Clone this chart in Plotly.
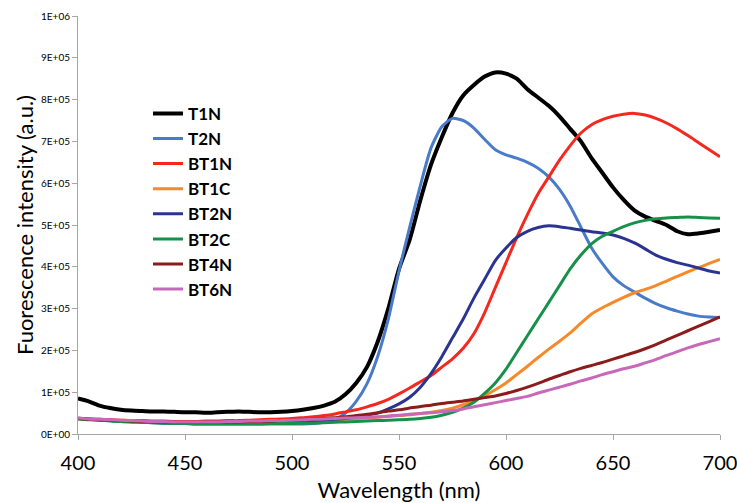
import plotly.graph_objects as go

wavelength = [400, 405, 410, 415, 420, 425, 430, 435, 440, 445,
              450, 455, 460, 465, 470, 475, 480, 485, 490, 495,
              500, 505, 510, 515, 520, 525, 530, 535, 540, 545,
              550, 555, 560, 565, 570, 575, 580, 585, 590, 595,
              600, 605, 610, 615, 620, 625, 630, 635, 640, 645,
              650, 655, 660, 665, 670, 675, 680, 685, 690, 695, 700]

T1N = [85e3, 78e3, 68e3, 62e3, 58e3, 56e3, 55e3, 54e3, 54e3, 53e3,
       52e3, 52e3, 51e3, 52e3, 53e3, 54e3, 53e3, 52e3, 52e3, 53e3,
       55e3, 58e3, 62e3, 68e3, 77e3, 95e3, 122e3, 160e3, 220e3, 300e3,
       395e3, 465e3, 560e3, 645e3, 710e3, 768e3, 810e3, 835e3, 855e3, 865e3,
       862e3, 850e3, 825e3, 805e3, 785e3, 760e3, 730e3, 700e3, 660e3, 625e3,
       590e3, 560e3, 535e3, 520e3, 510e3, 500e3, 485e3, 478e3, 480e3, 484e3, 488e3]

T2N = [38e3, 36e3, 34e3, 32e3, 30e3, 29e3, 28e3, 27e3, 26e3, 25e3,
       25e3, 24e3, 24e3, 24e3, 24e3, 24e3, 24e3, 24e3, 24e3, 24e3,
       24e3, 24e3, 25e3, 28e3, 35e3, 50e3, 78e3, 120e3, 185e3, 275e3,
       390e3, 495e3, 595e3, 685e3, 735e3, 755e3, 750e3, 732e3, 705e3, 680e3,
       668e3, 660e3, 650e3, 636e3, 615e3, 585e3, 545e3, 495e3, 445e3, 408e3,
       376e3, 355e3, 340e3, 325e3, 312e3, 302e3, 294e3, 287e3, 282e3, 280e3, 279e3]

BT1N = [37e3, 36e3, 35e3, 34e3, 33e3, 32e3, 32e3, 31e3, 31e3, 30e3,
        30e3, 30e3, 31e3, 31e3, 32e3, 32e3, 33e3, 34e3, 35e3, 36e3,
        37e3, 39e3, 41e3, 44e3, 48e3, 53e3, 58e3, 65e3, 73e3, 83e3,
        96e3, 110e3, 125e3, 140e3, 160e3, 180e3, 205e3, 240e3, 290e3, 350e3,
        410e3, 470e3, 525e3, 575e3, 615e3, 655e3, 690e3, 720e3, 740e3, 752e3,
        760e3, 765e3, 767e3, 763e3, 755e3, 744e3, 730e3, 714e3, 697e3, 680e3, 663e3]

BT1C = [38e3, 36e3, 35e3, 33e3, 32e3, 31e3, 30e3, 29e3, 28e3, 27e3,
        27e3, 27e3, 27e3, 27e3, 27e3, 28e3, 28e3, 29e3, 29e3, 30e3,
        30e3, 31e3, 32e3, 33e3, 34e3, 35e3, 37e3, 38e3, 40e3, 42e3,
        44e3, 46e3, 49e3, 52e3, 56e3, 62e3, 70e3, 80e3, 92e3, 106e3,
        122e3, 142e3, 162e3, 183e3, 203e3, 222e3, 242e3, 265e3, 287e3, 302e3,
        315e3, 327e3, 338e3, 346e3, 355e3, 366e3, 377e3, 388e3, 398e3, 408e3, 418e3]

BT2N = [37e3, 35e3, 34e3, 32e3, 31e3, 30e3, 29e3, 28e3, 27e3, 26e3,
        26e3, 26e3, 26e3, 26e3, 27e3, 27e3, 28e3, 28e3, 29e3, 29e3,
        30e3, 31e3, 32e3, 33e3, 35e3, 37e3, 40e3, 45e3, 50e3, 60e3,
        72e3, 88e3, 112e3, 145e3, 185e3, 230e3, 275e3, 325e3, 370e3, 415e3,
        445e3, 470e3, 485e3, 494e3, 498e3, 496e3, 492e3, 488e3, 484e3, 481e3,
        476e3, 468e3, 457e3, 443e3, 428e3, 418e3, 410e3, 404e3, 397e3, 390e3, 385e3]

BT2C = [36e3, 34e3, 33e3, 31e3, 30e3, 29e3, 28e3, 27e3, 26e3, 25e3,
        25e3, 24e3, 24e3, 24e3, 24e3, 24e3, 24e3, 24e3, 25e3, 25e3,
        25e3, 26e3, 26e3, 27e3, 28e3, 29e3, 30e3, 31e3, 32e3, 33e3,
        34e3, 35e3, 37e3, 40e3, 45e3, 52e3, 62e3, 76e3, 97e3, 122e3,
        155e3, 195e3, 235e3, 275e3, 315e3, 355e3, 395e3, 428e3, 455e3, 473e3,
        485e3, 496e3, 505e3, 511e3, 515e3, 517e3, 518e3, 519e3, 518e3, 517e3, 516e3]

BT4N = [37e3, 35e3, 34e3, 33e3, 32e3, 31e3, 30e3, 29e3, 29e3, 28e3,
        28e3, 28e3, 28e3, 28e3, 29e3, 29e3, 30e3, 30e3, 31e3, 32e3,
        33e3, 34e3, 36e3, 37e3, 39e3, 41e3, 44e3, 47e3, 51e3, 55e3,
        58e3, 62e3, 66e3, 69e3, 73e3, 76e3, 79e3, 83e3, 87e3, 91e3,
        97e3, 104e3, 112e3, 121e3, 131e3, 140e3, 149e3, 157e3, 164e3, 171e3,
        179e3, 187e3, 195e3, 204e3, 214e3, 225e3, 236e3, 247e3, 258e3, 269e3, 280e3]

BT6N = [38e3, 36e3, 35e3, 34e3, 33e3, 32e3, 31e3, 30e3, 30e3, 29e3,
        29e3, 29e3, 29e3, 29e3, 30e3, 30e3, 31e3, 31e3, 32e3, 32e3,
        33e3, 34e3, 35e3, 36e3, 37e3, 38e3, 39e3, 40e3, 41e3, 43e3,
        45e3, 47e3, 49e3, 51e3, 53e3, 56e3, 60e3, 65e3, 70e3, 75e3,
        80e3, 85e3, 90e3, 98e3, 105e3, 112e3, 119e3, 127e3, 134e3, 142e3,
        149e3, 156e3, 162e3, 170e3, 178e3, 188e3, 197e3, 206e3, 214e3, 221e3, 228e3]

series_names = ["T1N", "T2N", "BT1N", "BT1C", "BT2N", "BT2C", "BT4N", "BT6N"]
series_values = [T1N, T2N, BT1N, BT1C, BT2N, BT2C, BT4N, BT6N]
series_colors = ["#000000", "#4a7bc8", "#f5281e", "#f68a2a", "#2b3590", "#17904a", "#8c1c1c", "#c868b8"]
series_widths = [4, 3, 3, 3, 3, 3, 3, 3]

y_tickvals = [0, 1e5, 2e5, 3e5, 4e5, 5e5, 6e5, 7e5, 8e5, 9e5, 1e6]
y_ticktext = ["0E+00", "1E+05", "2E+05", "3E+05", "4E+05", "5E+05",
              "6E+05", "7E+05", "8E+05", "9E+05", "1E+06"]
x_tickvals = [400, 450, 500, 550, 600, 650, 700]

fig = go.Figure()
for name, vals, col, w in zip(series_names, series_values, series_colors, series_widths):
    fig.add_trace(go.Scatter(x=wavelength, y=vals, name=name, mode="lines",
                             line=dict(color=col, width=w, shape="spline", smoothing=0.6)))

fig.update_layout(
    width=737, height=503,
    margin=dict(l=78, r=17, t=16, b=69),
    paper_bgcolor="white", plot_bgcolor="white",
    font=dict(family="Lato, Open Sans, sans-serif", color="#000000"),
    showlegend=True,
    legend=dict(x=0.109, y=0.809, xanchor="left", yanchor="top",
                font=dict(size=17, family="Lato, sans-serif", weight="bold"),
                bgcolor="rgba(0,0,0,0)", borderwidth=0, tracegroupgap=0,
                itemwidth=30),
    xaxis=dict(range=[400, 700], tickvals=x_tickvals, ticks="outside", ticklen=5,
               tickcolor="#a6a6a6", showline=True, linecolor="#a6a6a6", linewidth=1,
               showgrid=False, zeroline=False, tickfont=dict(size=20),
               ticklabelstandoff=6, automargin=False, ticklabeloverflow="allow",
               title=dict(text="Wavelength (nm)", font=dict(size=22))),
    yaxis=dict(range=[0, 1e6], tickvals=y_tickvals, ticktext=y_ticktext, ticks="outside",
               ticklen=5, tickcolor="#a6a6a6", showline=True, linecolor="#a6a6a6",
               linewidth=1, showgrid=False, zeroline=False, tickfont=dict(size=10),
               automargin=False,
               title=dict(text="Fuorescence intensity (a.u.)", font=dict(size=22), standoff=1)),
)

fig.write_html("out.html", config={"displayModeBar": False},
               post_script="document.body.style.margin='0';document.body.style.overflow='hidden';")
